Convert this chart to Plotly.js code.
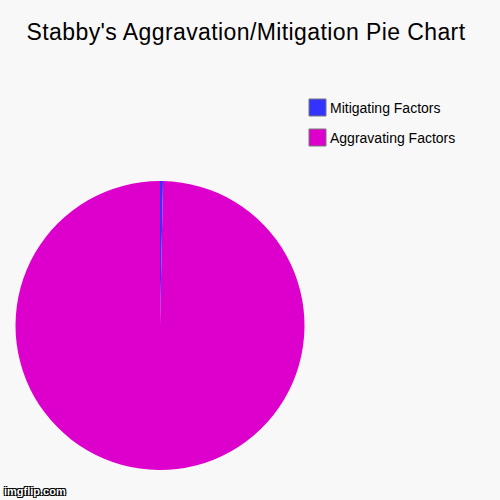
<!DOCTYPE html>
<html>
<head>
<meta charset="utf-8">
<script src="https://cdn.plot.ly/plotly-3.0.1.min.js"></script>
<style>
  html, body { margin: 0; padding: 0; background: #f8f8f8; }
  #chart { width: 500px; height: 500px; }
  /* reference title runs a touch wider than Liberation Sans */
  #chart .gtitle { letter-spacing: 0.4px; }
</style>
</head>
<body>
<div id="chart"></div>
<script>
// slice data
var labels = ['Mitigating Factors', 'Aggravating Factors'];
var values = [1, 300];
var colors = ['#3333ff', '#dd00cc'];

var trace = {
  type: 'pie',
  labels: labels,
  values: values,
  sort: false,
  direction: 'clockwise',
  rotation: 0,
  textinfo: 'none',
  hoverinfo: 'none',
  marker: { colors: colors, line: { width: 0 } },
  domain: { x: [0.03, 0.61], y: [0.06, 0.638] }
};

// legend drawn by hand so the boxes are big like imgflip's
var legX = 309, legTop = 99, box = 17, step = 30;
var shapes = [];
var annotations = [];
labels.forEach(function(lab, i) {
  var top = legTop + i * step;
  shapes.push({
    type: 'rect', xref: 'paper', yref: 'paper',
    x0: legX / 500, x1: (legX + box) / 500,
    y0: 1 - (top + box) / 500, y1: 1 - top / 500,
    fillcolor: colors[i], line: { color: '#777', width: 1 }
  });
  annotations.push({
    text: lab,
    xref: 'paper', yref: 'paper',
    x: (legX + box + 2) / 500, y: 1 - (top + box / 2 + 0.5) / 500,
    xanchor: 'left', yanchor: 'middle',
    showarrow: false,
    font: { size: 14, color: '#000' }
  });
});

annotations.push({
  text: 'imgflip.com',
  xref: 'paper', yref: 'paper',
  x: 0.003, y: 0.003, xanchor: 'left', yanchor: 'bottom',
  showarrow: false,
  font: {
    size: 11, color: '#fff', weight: 'bold',
    shadow: '1px 1px 0 #000, -1px -1px 0 #000, 1px -1px 0 #000, -1px 1px 0 #000'
  }
});

var layout = {
  width: 500,
  height: 500,
  margin: { l: 0, r: 0, t: 0, b: 0 },
  paper_bgcolor: '#f8f8f8',
  plot_bgcolor: '#f8f8f8',
  font: { family: 'Liberation Sans, Arial, sans-serif', color: '#000' },
  title: {
    text: "Stabby's Aggravation/Mitigation Pie Chart",
    font: { size: 23, color: '#000' },
    x: 0.492, xanchor: 'center',
    y: 0.936, yanchor: 'middle'
  },
  showlegend: false,
  shapes: shapes,
  annotations: annotations
};

Plotly.newPlot('chart', [trace], layout, { displayModeBar: false, staticPlot: true });
</script>
</body>
</html>
